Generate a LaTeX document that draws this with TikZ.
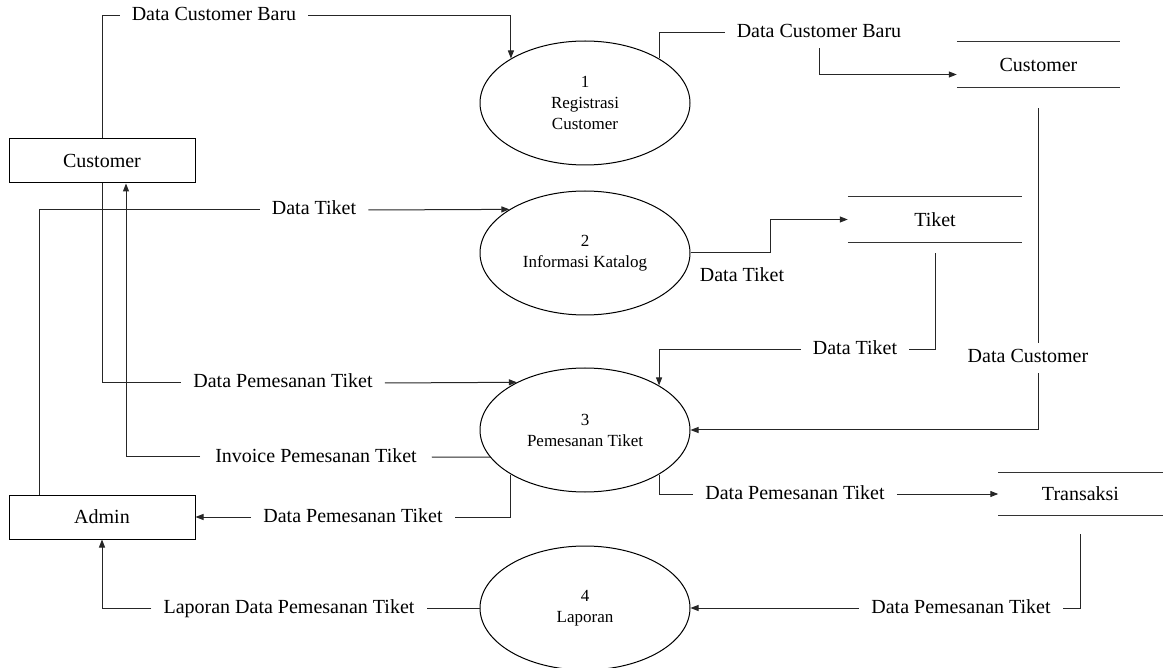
\documentclass[tikz,border=0pt]{standalone}
\usepackage{fontspec}
\setmainfont{Liberation Serif}
\usepackage{tikz}
\usetikzlibrary{positioning,shapes.geometric,arrows.meta}

\begin{document}
\begin{tikzpicture}[
	x=1pt, y=-1pt,
	% Entitas luar (kotak)
	entity/.style={
		rectangle, draw=black, line width=1pt,
		minimum width=186pt, minimum height=44pt, inner sep=0pt,
		font=\fontsize{20}{24}\selectfont
	},
	% Proses (elips)
	proc/.style={
		ellipse, draw=black, line width=1pt,
		minimum width=210pt, minimum height=124pt, inner sep=0pt,
		align=center, font=\fontsize{17}{21}\selectfont
	},
	% Data store (garis atas/bawah digambar di bagian 3)
	store/.style={
		rectangle, minimum height=45pt, inner sep=0pt,
		font=\fontsize{20}{24}\selectfont
	},
	% Label aliran data
	flow/.style={
		inner xsep=12pt, inner ysep=2pt, text height=14pt, text depth=4pt,
		font=\fontsize{20}{24}\selectfont
	},
	conn/.style={draw=black!85, line width=1pt},
	arr/.style={conn, -{Triangle[length=8pt,width=6pt]}}
	]
	\useasboundingbox (0,0) rectangle (1163,668);
	
	% --- 1. ENTITAS LUAR ---
	\node[entity] (cust) at (102,161) {Customer};
	\node[entity] (admin) at (102,517) {Admin};
	
	% --- 2. PROSES ---
	\node[proc] (p1) at (585,103) {1\\Registrasi\\Customer};
	\node[proc] (p2) at (585,253) {2\\Informasi Katalog};
	\node[proc] (p3) at (585,430) {3\\Pemesanan Tiket};
	\node[proc] (p4) at (585,608) {4\\Laporan};
	
	% --- 3. DATA STORE ---
	\node[store, minimum width=163pt] (cstore) at (1038.5,64.5) {Customer};
	\node[store, minimum width=174pt] (tiket) at (935,219.5) {Tiket};
	\node[store, minimum width=164pt, minimum height=42pt] (trans) at (1080.5,494) {Transaksi};
	\foreach \s in {cstore, tiket, trans} {
		\draw[draw=black!80, line width=1.3pt] (\s.north west) -- (\s.north east)
		(\s.south west) -- (\s.south east);
	}
	
	% --- 4. LABEL ALIRAN ---
	\node[flow] (l1) at (214,16) {Data Customer Baru};
	\node[flow] (l7) at (819,33) {Data Customer Baru};
	\node[flow] (l11) at (314,210) {Data Tiket};
	\node[flow] (l4) at (742,277) {Data Tiket};
	\node[flow] (l5) at (855,350) {Data Tiket};
	\node[flow, inner ysep=6pt] (l6) at (1028,358) {Data Customer};
	\node[flow] (l8) at (283,383) {Data Pemesanan Tiket};
	\node[flow, inner xsep=15pt] (l9) at (316,457) {Invoice Pemesanan Tiket};
	\node[flow] (l10) at (353,517) {Data Pemesanan Tiket};
	\node[flow] (l12) at (795,494) {Data Pemesanan Tiket};
	\node[flow] (l13) at (961,608) {Data Pemesanan Tiket};
	\node[flow] (l14) at (289,608) {Laporan Data Pemesanan Tiket};
	
	% --- 5. ALIRAN DATA ---
	% Customer -> 1 -> data store Customer
	\draw[conn] (cust.north) |- (l1.west);
	\draw[arr] (l1.east) -| (p1.149);
	\draw[conn] (p1.31) |- (l7.west);
	\draw[arr] ([yshift=-4pt]l7.south) |- ([yshift=-10pt]cstore.west);
	
	% Admin -> 2 -> Tiket
	\draw[conn] ([xshift=-63pt]admin.north) |- (l11.west);
	\draw[arr] (l11.east) -- (p2.150);
	\draw[arr] (p2.east) -- ++(80,0) |- (tiket.west);
	
	% Tiket, Customer -> 3
	\draw[conn] ([yshift=-11pt]tiket.south) |- (l5.east);
	\draw[arr] (l5.west) -| (p3.31);
	\draw[conn] ([yshift=-21pt]cstore.south) -- (cstore.south |- l6.north);
	\draw[arr] (cstore.south |- l6.south) |- (p3.east);
	\draw[conn] (cust.south) |- (l8.west);
	\draw[arr] (l8.east) -- (p3.145.5);
	
	% 3 -> Customer, Admin, Transaksi
	\draw[conn] (p3.196) -- (l9.east);
	\draw[arr] (l9.west) -| ([xshift=24pt]cust.south);
	\draw[conn] (p3.211) |- (l10.east);
	\draw[arr] (l10.west) -- (admin.east);
	\draw[conn] (p3.329) |- (l12.west);
	\draw[arr] (l12.east) -- (trans.west);
	
	% Transaksi -> 4 -> Admin
	\draw[conn] ([yshift=-19pt]trans.south) |- (l13.east);
	\draw[arr] (l13.west) -- (p4.east);
	\draw[conn] (p4.west) -- (l14.east);
	\draw[arr] (l14.west) -| (admin.south);
\end{tikzpicture}
\end{document}
